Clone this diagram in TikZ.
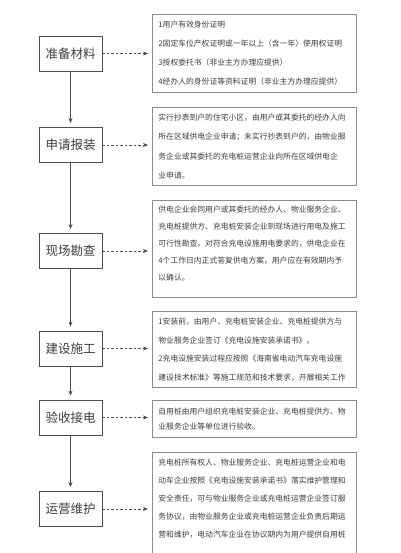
\documentclass[tikz,border=0pt]{standalone}
\usepackage{fontspec}
\newfontfamily\cjk{Noto Sans CJK SC}
\usetikzlibrary{arrows.meta}
\definecolor{linegray}{HTML}{4D4D4D}
\definecolor{boxgray}{HTML}{8C8C8C}
\definecolor{inkgray}{HTML}{3C3C3C}
\tikzset{
  stepbox/.style={draw=linegray, line width=0.9pt, minimum width=63pt, minimum height=35pt,
    inner sep=2pt, text=inkgray, font=\cjk\fontsize{12.5}{14}\selectfont},
  infobox/.style={draw=boxgray, line width=0.8pt, anchor=north west, text width=192pt,
    inner xsep=6pt, align=left, text=inkgray, font=\cjk\fontsize{7.8}{#1}\selectfont},
  flow/.style={draw=linegray, line width=0.6pt, -{Stealth[length=5pt,width=4pt]}, shorten >=4pt},
  hint/.style={draw=linegray, line width=0.6pt, dash pattern=on 2.5pt off 2pt,
    -{Stealth[length=5pt,width=4pt]}, shorten >=4pt}
}
\begin{document}
\begin{tikzpicture}[x=1pt,y=-1pt]
\useasboundingbox (0,0) rectangle (400,553);
\clip (0,0) rectangle (400,553);
% steps
\node[stepbox] (prep) at (70.5,53.5) {准备材料};
\node[stepbox] (apply) at (70.5,145) {申请报装};
\node[stepbox] (survey) at (70.5,251) {现场勘查};
\node[stepbox] (build) at (70.5,348.5) {建设施工};
\node[stepbox] (accept) at (70.5,417.5) {验收接电};
\node[stepbox] (operate) at (70.5,509) {运营维护};
% details
\node[infobox=19pt, minimum height=78pt] (prepinfo) at (152,14) {1用户有效身份证明\\
2固定车位产权证明或一年以上（含一年）使用权证明\\
3授权委托书（非业主方办理应提供）\\
4经办人的身份证等资料证明（非业主方办理应提供）};
\node[infobox=19.5pt, minimum height=78pt] (applyinfo) at (152,107) {实行抄表到户的住宅小区，由用户或其委托的经办人向\\
所在区域供电企业申请；未实行抄表到户的，由物业服\\
务企业或其委托的充电桩运营企业向所在区域供电企\\
业申请。};
\node[infobox=17pt, inner ysep=5pt, minimum height=97pt] (surveyinfo) at (152,200) {供电企业会同用户或其委托的经办人、物业服务企业、\\
充电桩提供方、充电桩安装企业到现场进行用电及施工\\
可行性勘查。对符合充电设施用电要求的，供电企业在\\
4个工作日内正式答复供电方案，用户应在有效期内予\\
以确认。\\[-6pt]\mbox{}};
\node[infobox=18.5pt, minimum height=76pt] (buildinfo) at (152,311) {1安装前，由用户、充电桩安装企业、充电桩提供方与\\
物业服务企业签订《充电设施安装承诺书》。\\
2充电设施安装过程应按照《海南省电动汽车充电设施\\
建设技术标准》等施工规范和技术要求，开展相关工作};
\node[infobox=15pt, minimum height=37pt] (acceptinfo) at (152,400) {自用桩由用户组织充电桩安装企业、充电桩提供方、物\\
业服务企业等单位进行验收。};
\node[infobox=18pt, inner ysep=6pt] (operateinfo) at (152,452) {充电桩所有权人、物业服务企业、充电桩运营企业和电\\
动车企业按照《充电设施安装承诺书》落实维护管理和\\
安全责任，可与物业服务企业或充电桩运营企业签订服\\
务协议，由物业服务企业或充电桩运营企业负责后期运\\
营和维护，电动汽车企业在协议期内为用户提供自用桩\\
\mbox{}\\
\mbox{}};
% connectors
\foreach \a/\b in {prep/apply, apply/survey, survey/build, build/accept, accept/operate}
  \draw[flow] (\a) -- (\b);
\foreach \s/\i in {prep/prepinfo, apply/applyinfo, survey/surveyinfo, build/buildinfo,
    accept/acceptinfo, operate/operateinfo}
  \draw[hint] (\s.east) -- (\s.east -| \i.west);
\end{tikzpicture}
\end{document}
